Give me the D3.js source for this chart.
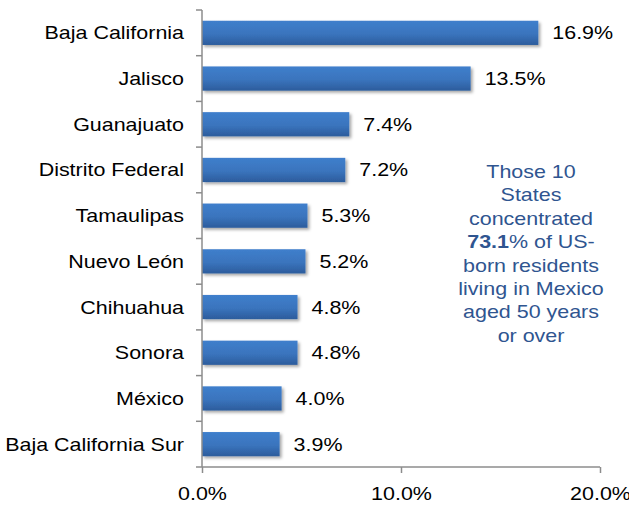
<!DOCTYPE html>
<html>
<head>
<meta charset="utf-8">
<script src="https://cdn.jsdelivr.net/npm/d3@7"></script>
<style>
  body { margin: 0; background: #fff; }
  svg { display: block; font-family: "Liberation Sans", Arial, sans-serif; }
</style>
</head>
<body>
<svg id="chart"></svg>
<script>
const states = ["Baja California", "Jalisco", "Guanajuato", "Distrito Federal", "Tamaulipas",
  "Nuevo León", "Chihuahua", "Sonora", "México", "Baja California Sur"];
const shares = [16.9, 13.5, 7.4, 7.2, 5.3, 5.2, 4.8, 4.8, 4.0, 3.9];
const xTicks = [0, 10, 20];
const noteLines = ["Those 10", "States", "concentrated", ["73.1", "% of US-"], "born residents",
  "living in Mexico", "aged 50 years", "or over"];

const W = 629, H = 506;
const MARGIN = { top: 10, right: 29, bottom: 39, left: 202 };
const SX = 1.16; // text in the original is stretched horizontally

const svg = d3.select("#chart").attr("width", W).attr("height", H);

const defs = svg.append("defs");
const grad = defs.append("linearGradient").attr("id", "barGrad")
  .attr("x1", 0).attr("y1", 0).attr("x2", 0).attr("y2", 1);
grad.append("stop").attr("offset", "0%").attr("stop-color", "#3f7fcc");
grad.append("stop").attr("offset", "55%").attr("stop-color", "#3a74bd");
grad.append("stop").attr("offset", "100%").attr("stop-color", "#2c5c9c");

const shadow = defs.append("filter").attr("id", "shadow")
  .attr("x", "-10%").attr("y", "-20%").attr("width", "130%").attr("height", "160%");
shadow.append("feDropShadow").attr("dx", 2).attr("dy", 2).attr("stdDeviation", 1.5)
  .attr("flood-color", "#000").attr("flood-opacity", 0.35);

const x = d3.scaleLinear().domain([0, 20]).range([MARGIN.left, W - MARGIN.right]);
const y = d3.scaleBand().domain(states).range([MARGIN.top, H - MARGIN.bottom]).paddingInner(0.47).paddingOuter(0.235);
const yTicks = d3.scalePoint().domain(d3.range(states.length + 1)).range([MARGIN.top, H - MARGIN.bottom]);

// bars
svg.append("g").selectAll("rect")
  .data(states)
  .join("rect")
    .attr("x", x(0))
    .attr("y", d => y(d))
    .attr("width", (d, i) => x(shares[i]) - x(0))
    .attr("height", y.bandwidth())
    .attr("fill", "url(#barGrad)")
    .attr("filter", "url(#shadow)");

// value labels
svg.append("g").selectAll("text")
  .data(states)
  .join("text")
    .attr("transform", (d, i) => `translate(${x(shares[i]) + 14},${y(d) + y.bandwidth() / 2}) scale(${SX},1)`)
    .attr("dy", "0.35em")
    .attr("font-size", 18.5)
    .attr("fill", "#000")
    .text((d, i) => shares[i].toFixed(1) + "%");

// y axis (category)
const axisColor = "#8c8c8c";
const yAxisG = svg.append("g");
yAxisG.append("line")
  .attr("x1", x(0)).attr("x2", x(0))
  .attr("y1", MARGIN.top).attr("y2", H - MARGIN.bottom)
  .attr("stroke", axisColor).attr("stroke-width", 1.5);
yAxisG.selectAll("line.tick")
  .data(yTicks.domain())
  .join("line")
    .attr("class", "tick")
    .attr("x1", x(0) - 6).attr("x2", x(0))
    .attr("y1", d => yTicks(d)).attr("y2", d => yTicks(d))
    .attr("stroke", axisColor).attr("stroke-width", 1.5);
yAxisG.selectAll("text")
  .data(states)
  .join("text")
    .attr("transform", d => `translate(${x(0) - 18},${y(d) + y.bandwidth() / 2}) scale(${SX},1)`)
    .attr("dy", "0.35em")
    .attr("text-anchor", "end")
    .attr("font-size", 18.5)
    .attr("fill", "#000")
    .text(d => d);

// x axis
const xAxisG = svg.append("g")
  .attr("transform", `translate(0,${H - MARGIN.bottom})`)
  .call(d3.axisBottom(x).tickValues(xTicks).tickSize(6).tickFormat(d => d.toFixed(1) + "%"));
xAxisG.select(".domain").attr("stroke", axisColor).attr("stroke-width", 1.5).attr("d", `M${x(0)},0H${x(20)}`);
xAxisG.selectAll(".tick line").attr("stroke", axisColor).attr("stroke-width", 1.5);
xAxisG.selectAll(".tick text")
  .attr("font-size", 18.5).attr("fill", "#000")
  .attr("y", null).attr("dy", null)
  .attr("transform", `translate(0,33) scale(${SX},1)`)
  .attr("font-family", "'Liberation Sans', Arial, sans-serif");

// annotation
const note = svg.append("text")
  .attr("transform", `translate(531,0) scale(${SX},1)`)
  .attr("text-anchor", "middle")
  .attr("font-size", 18.5)
  .attr("fill", "#2f5590");
noteLines.forEach((ln, i) => {
  const t = note.append("tspan").attr("x", 0).attr("y", 178 + i * 23.4);
  if (Array.isArray(ln)) {
    t.append("tspan").attr("font-weight", "bold").text(ln[0]);
    t.append("tspan").text(ln[1]);
  } else {
    t.text(ln);
  }
});
</script>
</body>
</html>
